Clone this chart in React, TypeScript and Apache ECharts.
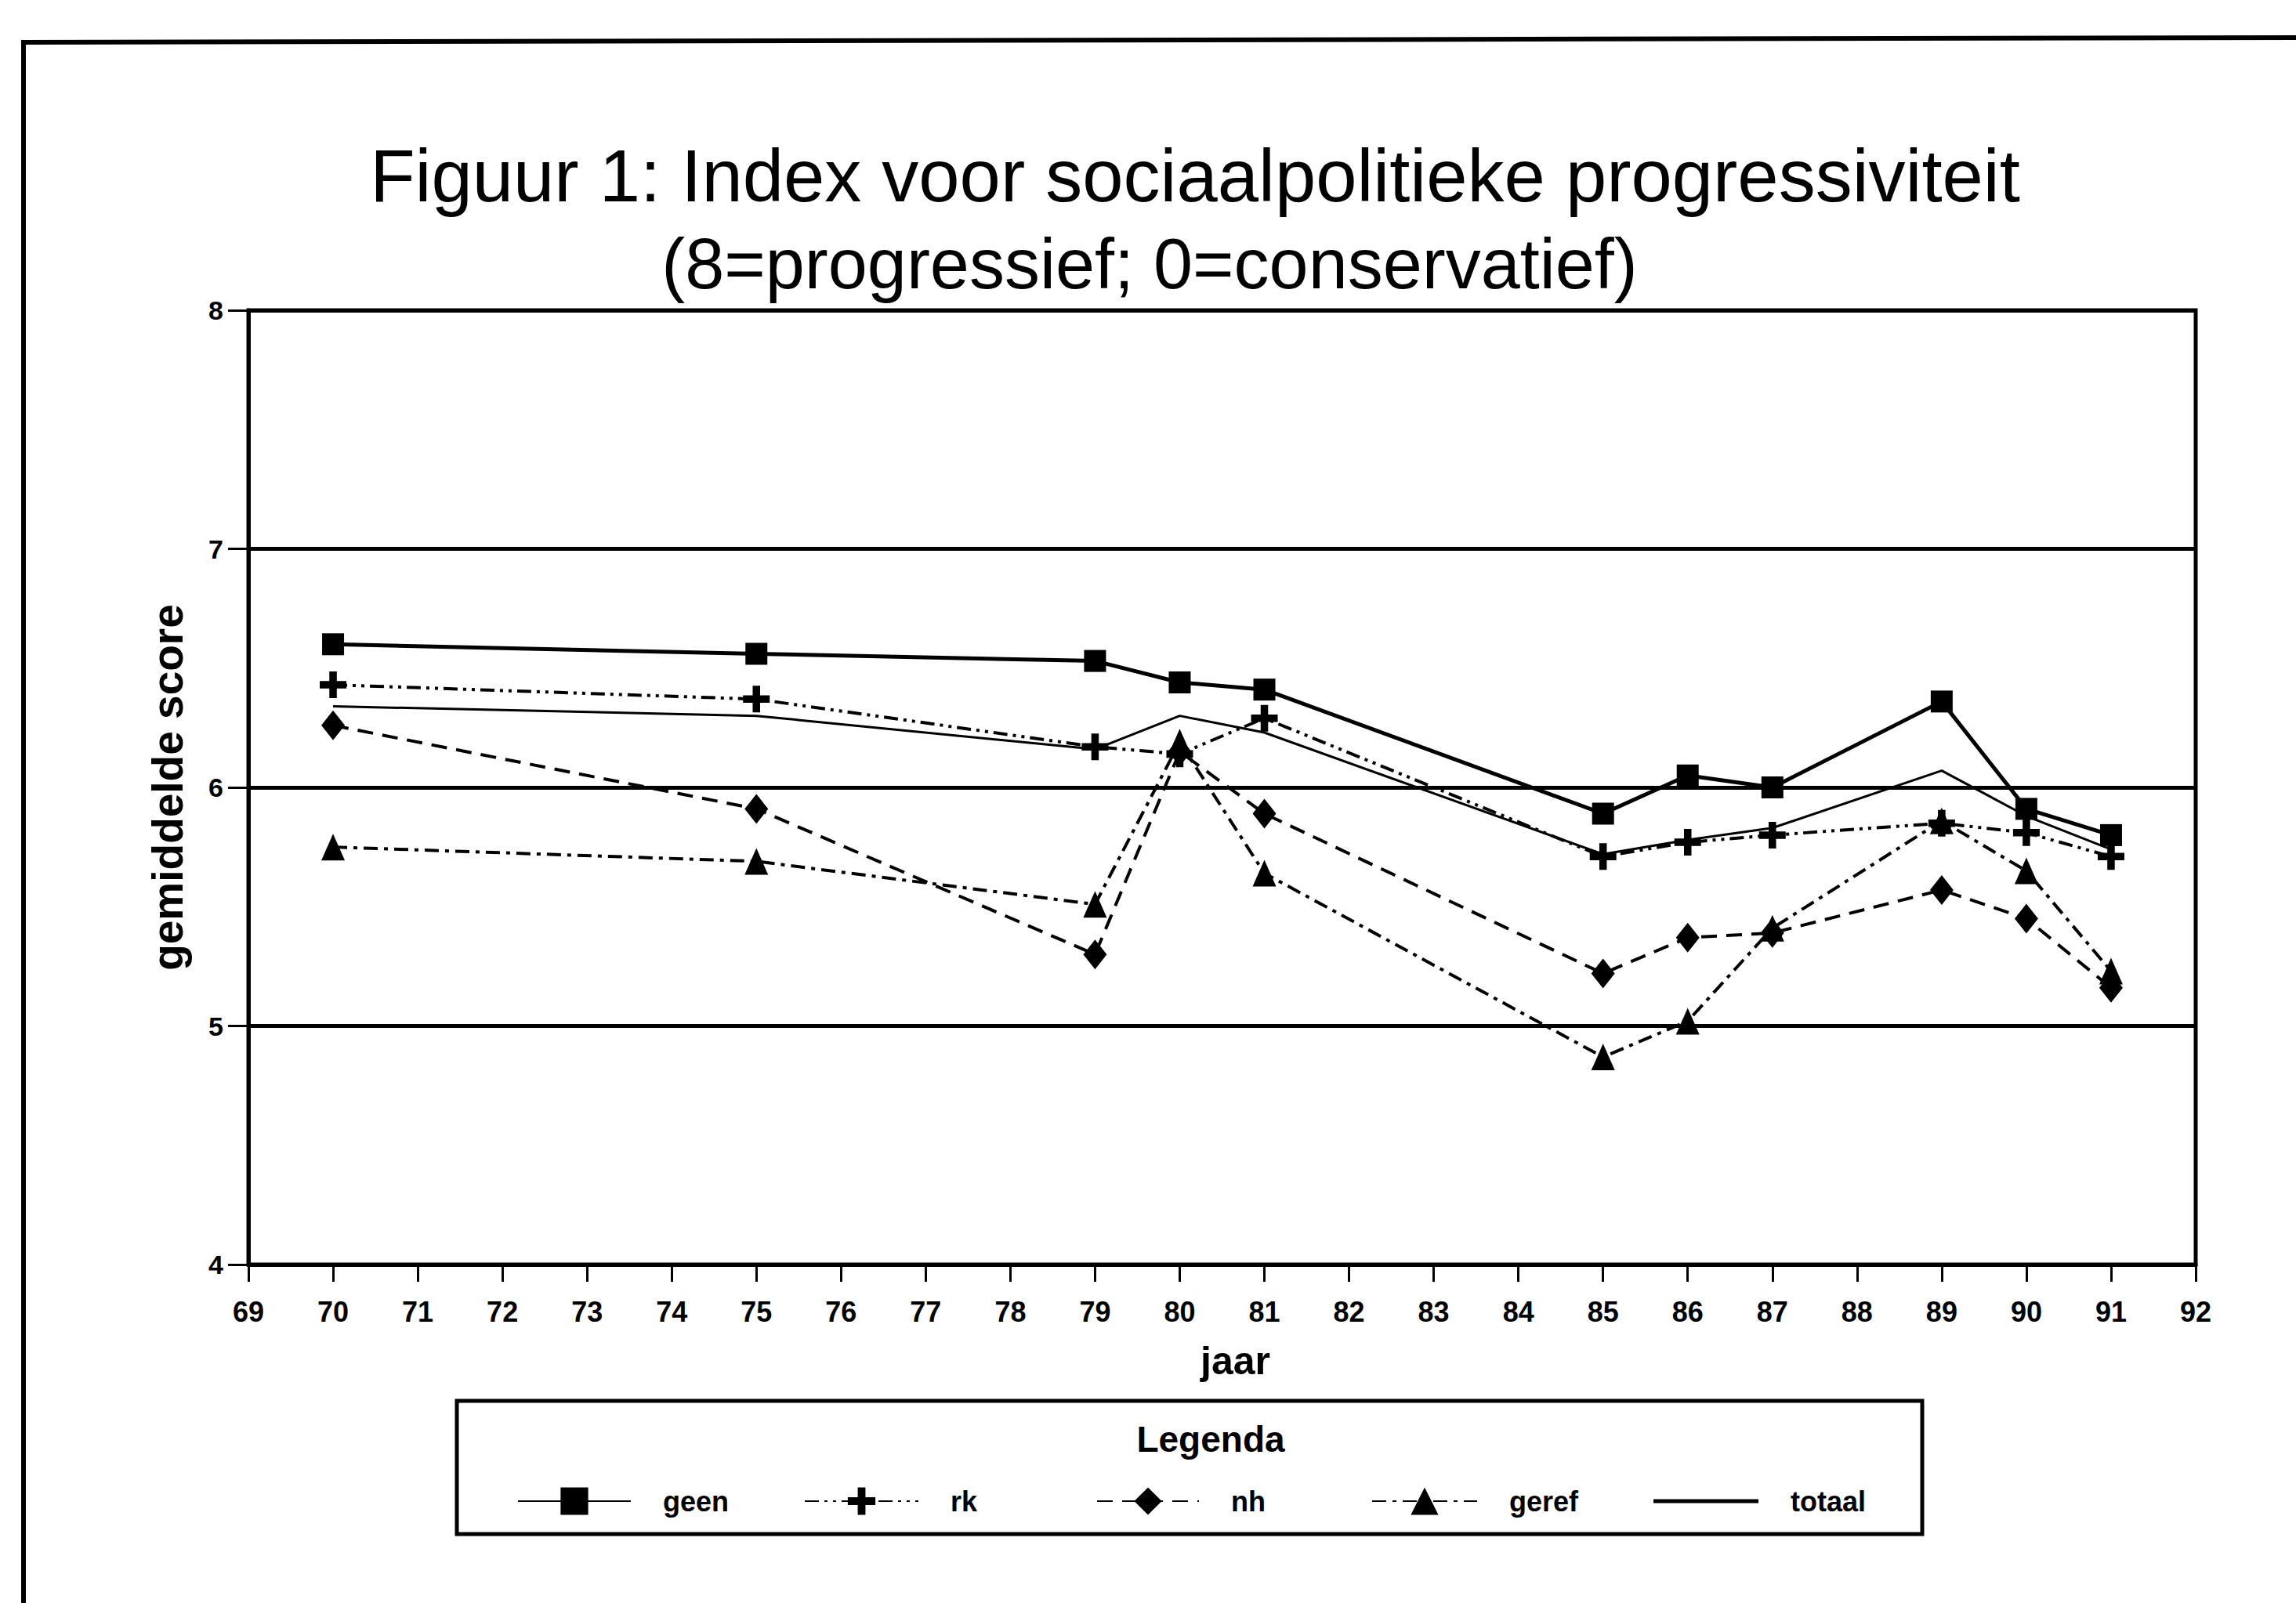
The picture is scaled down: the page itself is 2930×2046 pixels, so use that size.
import React, { useEffect, useRef } from "react";
import * as echarts from "echarts";

// ---- data ----
const years = [70, 75, 79, 80, 81, 85, 86, 87, 89, 90, 91];
const geen = [6.6, 6.56, 6.53, 6.44, 6.41, 5.89, 6.05, 6.0, 6.36, 5.91, 5.8];
const rk = [6.43, 6.37, 6.17, 6.14, 6.29, 5.71, 5.77, 5.8, 5.85, 5.81, 5.71];
const nh = [6.26, 5.91, 5.3, 6.15, 5.89, 5.22, 5.37, 5.39, 5.57, 5.45, 5.16];
const geref = [5.75, 5.69, 5.51, 6.19, 5.64, 4.87, 5.02, 5.41, 5.86, 5.65, 5.23];
const totaal = [6.34, 6.3, 6.16, 6.3, 6.23, 5.72, 5.78, 5.83, 6.07, 5.88, 5.74];
const seriesNames = ["geen", "rk", "nh", "geref", "totaal"];
const titleLine1 = "Figuur 1: Index voor sociaalpolitieke progressiviteit";
const titleLine2 = "(8=progressief; 0=conservatief)";
const xName = "jaar";
const yName = "gemiddelde score";
const legendTitle = "Legenda";

const W = 2930;
const H = 2046;
const FONT = "'Liberation Sans', Arial, Helvetica, sans-serif";
const NARROW = "'Liberation Sans Narrow', 'Liberation Sans', Arial, sans-serif";

export default function App() {
  const ref = useRef<HTMLDivElement>(null);

  useEffect(() => {
    const chart = echarts.init(ref.current!, null, { renderer: "svg", width: W, height: H });
    const pair = (vals: number[]) => years.map((y, i) => [y, vals[i]]);
    const plusPath = "path://M3.6,0H6.4V3.6H10V6.4H6.4V10H3.6V6.4H0V3.6H3.6Z";
    const base = {
      type: "line",
      showSymbol: true,
      itemStyle: { color: "#000" },
      emphasis: { disabled: true },
      silent: true,
    };
    const legendLeft = [655, 1021, 1394, 1745, 2105];
    const legendW = [144, 145, 130, 134, 134];
    const legendRowY = 1915;

    chart.setOption({
      animation: false,
      backgroundColor: "#fff",
      grid: {
        left: 317,
        right: 128,
        top: 396,
        bottom: 432,
        show: true,
        borderColor: "#000",
        borderWidth: 5,
      },
      xAxis: {
        type: "value",
        min: 69,
        max: 92,
        interval: 1,
        name: xName,
        nameLocation: "middle",
        nameGap: 98,
        nameTextStyle: {
          fontSize: 50,
          fontWeight: "bold",
          color: "#000",
          fontFamily: NARROW,
          padding: [0, 0, 0, 34],
        },
        axisLine: { show: true, lineStyle: { color: "#000", width: 5 } },
        axisTick: { show: true, length: 22, lineStyle: { color: "#000", width: 3 } },
        axisLabel: { margin: 42, fontSize: 36, fontWeight: "bold", color: "#000", fontFamily: NARROW },
        splitLine: { show: false },
      },
      yAxis: {
        type: "value",
        min: 4,
        max: 8,
        interval: 1,
        name: yName,
        nameLocation: "middle",
        nameGap: 76,
        nameRotate: 90,
        nameTextStyle: { fontSize: 55, fontWeight: "bold", color: "#000", fontFamily: NARROW },
        axisLine: { show: true, lineStyle: { color: "#000", width: 5 } },
        axisTick: { show: true, length: 26, lineStyle: { color: "#000", width: 3 } },
        axisLabel: { margin: 32, fontSize: 34, fontWeight: "bold", color: "#000", fontFamily: NARROW },
        splitLine: { show: true, lineStyle: { color: "#000", width: 5 } },
      },
      legend: seriesNames.map((n, i) => {
        const isTotal = n === "totaal";
        return {
          data: isTotal ? [{ name: n, icon: "path://M0,0H134V5H0Z" }] : [n],
          left: legendLeft[i],
          top: legendRowY - 22,
          itemWidth: legendW[i],
          itemHeight: 44,
          selectedMode: false,
          textStyle: {
            fontSize: 36,
            fontWeight: "bold",
            color: "#000",
            fontFamily: NARROW,
            padding: [0, 0, 0, 36],
          },
        };
      }),
      series: [
        {
          ...base,
          name: "totaal",
          data: pair(totaal),
          symbol: "none",
          z: 2,
          lineStyle: { color: "#000", width: 3, type: "solid" },
        },
        {
          ...base,
          name: "geref",
          data: pair(geref),
          symbol: "triangle",
          symbolSize: [30, 34],
          z: 3,
          lineStyle: { color: "#000", width: 4, type: [18, 8, 5, 8] },
        },
        {
          ...base,
          name: "nh",
          data: pair(nh),
          symbol: "diamond",
          symbolSize: [30, 38],
          z: 3,
          lineStyle: { color: "#000", width: 4, type: [20, 12] },
        },
        {
          ...base,
          name: "rk",
          data: pair(rk),
          symbol: plusPath,
          symbolSize: 34,
          z: 4,
          lineStyle: { color: "#000", width: 4, type: [18, 7, 4, 7, 4, 7] },
        },
        {
          ...base,
          name: "geen",
          data: pair(geen),
          symbol: "rect",
          symbolSize: 28,
          z: 5,
          lineStyle: { color: "#000", width: 5, type: "solid" },
        },
      ],
      graphic: [
        {
          type: "polyline",
          silent: true,
          shape: { points: [[30, H + 10], [30, 54], [W + 10, 48]] },
          style: { stroke: "#000", lineWidth: 6, fill: "none" },
        },
        {
          type: "text",
          x: 1525,
          y: 224,
          silent: true,
          style: {
            text: titleLine1,
            fontSize: 94,
            fontFamily: FONT,
            fill: "#000",
            align: "center",
            verticalAlign: "middle",
          },
        },
        {
          type: "text",
          x: 1467,
          y: 337,
          silent: true,
          style: {
            text: titleLine2,
            fontSize: 90,
            fontFamily: FONT,
            fill: "#000",
            align: "center",
            verticalAlign: "middle",
          },
        },
        {
          type: "rect",
          silent: true,
          shape: { x: 583, y: 1788, width: 1870, height: 170 },
          style: { stroke: "#000", lineWidth: 5, fill: "none" },
        },
        {
          type: "text",
          x: 1545,
          y: 1837,
          silent: true,
          style: {
            text: legendTitle,
            fontSize: 46,
            fontWeight: "bold",
            fontFamily: NARROW,
            fill: "#000",
            align: "center",
            verticalAlign: "middle",
          },
        },
      ],
    });
    return () => chart.dispose();
  }, []);

  return (
    <div
      ref={ref}
      style={{ position: "fixed", left: 0, top: 0, width: W, height: H, background: "#fff" }}
    />
  );
}
